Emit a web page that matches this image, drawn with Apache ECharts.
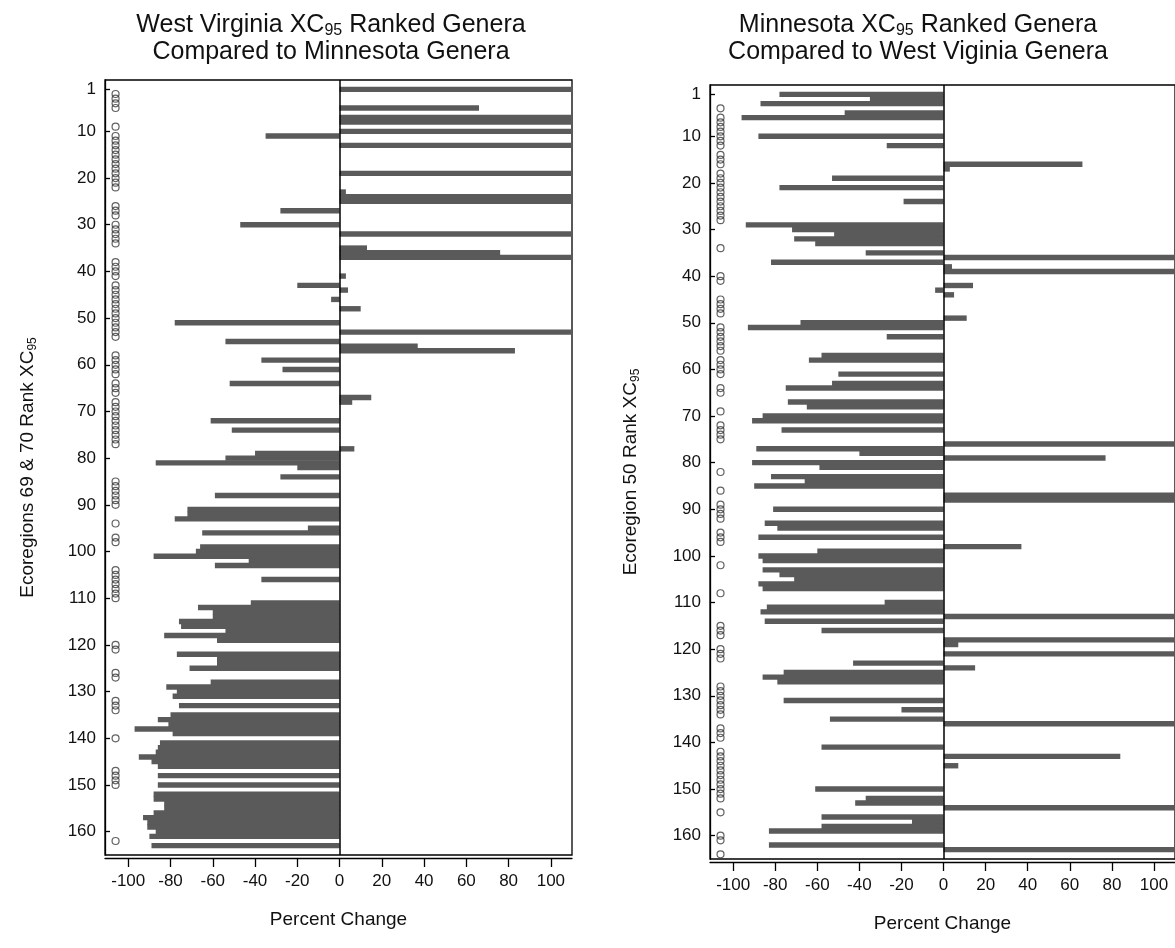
<!DOCTYPE html>
<html>
<head>
<meta charset="utf-8">
<script src="https://cdn.jsdelivr.net/npm/echarts@6/dist/echarts.min.js"></script>
<style>
  html, body { margin: 0; padding: 0; background: #fff; }
  #chart { width: 1175px; height: 948px; }
</style>
</head>
<body>
<div id="chart"></div>
<script>
// ---------------- DATA ----------------
const yTickLabels = [1, 10, 20, 30, 40, 50, 60, 70, 80, 90, 100, 110, 120, 130, 140, 150, 160];
const xTickValues = [-100, -80, -60, -40, -20, 0, 20, 40, 60, 80, 100];

// West Virginia (Ecoregions 69 & 70) ranked genera: rank and percent change vs Minnesota
// (values > 110 run off the right edge of the plot)
const wvRanks = [1, 5, 7, 8, 10, 11, 13, 19, 23, 24, 25, 27, 30, 32, 35, 36, 37, 41, 43, 44, 46, 48,
  51, 53, 55, 56, 57, 59, 61, 64, 67, 68, 72, 74, 78, 79, 80, 81, 82, 84, 88, 91, 92, 93, 95, 96,
  99, 100, 101, 102, 103, 106, 111, 112, 113, 114, 115, 116, 117, 118, 119, 122, 123, 124, 125,
  128, 129, 130, 131, 133, 135, 136, 137, 138, 139, 141, 142, 143, 144, 145, 146, 148, 150,
  152, 153, 154, 155, 156, 157, 158, 159, 160, 161, 163];
const wvChange = [120, 66, 120, 120, 120, -35, 120, 120, 3, 120, 120, -28, -47, 120, 13, 76, 120, 3, -20, 4, -4, 10,
  -78, 120, -54, 37, 83, -37, -27, -52, 15, 6, -61, -51, 7, -40, -54, -87, -20, -28, -59, -72, -72, -78, -15, -65,
  -66, -68, -88, -43, -59, -37, -42, -67, -60, -60, -76, -75, -54, -83, -58, -77, -58, -58, -71,
  -61, -82, -77, -79, -76, -80, -86, -81, -97, -79, -85, -86, -87, -95, -89, -86, -86, -86,
  -88, -88, -83, -83, -88, -93, -91, -91, -87, -90, -89];
// ranks of West Virginia genera not found in Minnesota (open circles)
const wvAbsentRanks = [2, 3, 4, 5, 9, 11, 12, 13, 14, 15, 16, 17, 18, 19, 20, 21, 22, 26, 27, 28, 30, 31, 32, 33, 34,
  38, 39, 40, 41, 43, 44, 45, 46, 47, 48, 49, 50, 51, 52, 53, 54, 58, 59, 60, 61, 62, 64, 65, 66,
  68, 69, 70, 71, 72, 73, 74, 75, 76, 77, 85, 86, 87, 88, 89, 90, 94, 97, 98, 104, 105, 106, 107,
  108, 109, 110, 120, 121, 126, 127, 132, 133, 134, 140, 147, 148, 149, 150, 162];

// Minnesota (Ecoregion 50) ranked genera: rank and percent change vs West Virginia
const mnRanks = [1, 2, 3, 5, 6, 10, 12, 16, 17, 19, 21, 24, 29, 30, 31, 32, 33, 35, 36, 37, 38, 39, 42, 43, 44,
  49, 50, 51, 53, 57, 58, 61, 63, 64, 67, 68, 70, 71, 73, 76, 77, 78, 79, 80, 81, 83, 84, 85, 87, 88,
  90, 93, 94, 96, 98, 99, 100, 101, 103, 104, 105, 106, 107, 110, 111, 112, 113, 114, 116, 118, 119,
  121, 123, 124, 125, 126, 127, 131, 133, 135, 136, 141, 143, 145, 150, 152, 153, 154, 156, 157,
  158, 159, 162, 163];
const mnChange = [-78, -35, -87, -47, -96, -88, -27, 66, 3, -53, -78, -19, -94, -72, -52, -71, -61, -37, 120, -82, 4, 120, 14, -4, 5,
  11, -68, -93, -27, -58, -64, -50, -53, -75, -74, -65, -86, -91, -77, 120, -89, -40, 77, -91, -59, -82, -66, -90, 120, 120,
  -81, -85, -79, -88, 37, -60, -88, -86, -86, -78, -71, -88, -86, -28, -84, -87, 120, -85, -58, 120, 7,
  120, -43, 15, -76, -86, -79, -76, -20, -54, 120, -58, 84, 7, -61, -37, -42, 120, -58, -15,
  -58, -83, -83, 120];
// ranks of Minnesota genera not found in West Virginia (open circles)
const mnAbsentRanks = [4, 6, 7, 8, 9, 10, 11, 12, 14, 15, 16, 18, 19, 20, 21, 22, 23, 24, 25, 26, 27, 28, 34, 40, 41,
  45, 46, 47, 48, 51, 52, 53, 54, 55, 56, 58, 59, 60, 61, 64, 65, 69, 72, 73, 74, 75, 82, 86, 89, 90,
  91, 92, 95, 96, 97, 102, 108, 115, 116, 117, 120, 121, 122, 128, 129, 130, 131, 132, 133, 134,
  137, 138, 139, 142, 143, 144, 145, 146, 147, 148, 149, 150, 151, 152, 155, 160, 161, 164];

const ABSENT_X = -106;       // percent-change coordinate where "absent" markers sit
const RANK_MIN = -1, RANK_MAX = 165;

// ---------------- CHART ----------------
const rankCats = [];
for (let r = RANK_MIN; r <= RANK_MAX; r++) rankCats.push(String(r));

const FONT = 'Liberation Sans, Arial, sans-serif';
const TXT = '#111';

function subRich(size, lh, subSize) {
  return {
    n: { fontSize: size, fontFamily: FONT, fontWeight: 'normal', color: TXT, lineHeight: lh, verticalAlign: 'middle' },
    s: { fontSize: subSize, fontFamily: FONT, fontWeight: 'normal', color: TXT, lineHeight: subSize, verticalAlign: 'bottom' }
  };
}

const showRankLabel = (idx, val) => yTickLabels.indexOf(Number(val)) >= 0;

function makeX(gi) {
  return {
    type: 'value', gridIndex: gi, min: -111, max: 110, offset: 3,
    axisLine: { show: true, onZero: false, lineStyle: { color: '#000', width: 1.3 } },
    axisTick: { show: true, length: 9, customValues: xTickValues, lineStyle: { color: '#000', width: 1.3 } },
    axisLabel: { customValues: xTickValues, fontSize: 17, fontFamily: FONT, color: TXT, margin: 15 },
    splitLine: { show: false },
    name: 'Percent Change', nameLocation: 'middle', nameGap: 52,
    nameTextStyle: { fontSize: 19, fontFamily: FONT, color: TXT }
  };
}
function makeY(gi, name, gap) {
  return {
    type: 'category', gridIndex: gi, data: rankCats, inverse: true, boundaryGap: false,
    axisLine: { show: true, onZero: false, lineStyle: { color: '#000', width: 1.3 } },
    axisTick: { show: true, inside: true, length: 5, interval: showRankLabel, lineStyle: { color: '#000', width: 1.3 } },
    axisLabel: { interval: showRankLabel, fontSize: 17, fontFamily: FONT, color: TXT, margin: 9 },
    splitLine: { show: false },
    name: name, nameLocation: 'middle', nameGap: gap, nameRotate: 90,
    nameTextStyle: { rich: subRich(19, 23, 12) }
  };
}
function barSeries(gi, ranks, vals) {
  return {
    type: 'bar', xAxisIndex: gi, yAxisIndex: gi,
    data: ranks.map((r, i) => [vals[i], String(r)]),
    barWidth: 5.4, clip: true,
    itemStyle: { color: '#5a5a5a' },
    markLine: {
      silent: true, symbol: 'none', label: { show: false },
      lineStyle: { color: '#000', width: 1.5, type: 'solid' },
      data: [{ xAxis: 0 }]
    },
    animation: false
  };
}
function absentSeries(gi, ranks) {
  return {
    type: 'scatter', xAxisIndex: gi, yAxisIndex: gi,
    data: ranks.map(r => [ABSENT_X, String(r)]),
    symbol: 'circle', symbolSize: 7,
    itemStyle: { color: 'rgba(0,0,0,0)', borderColor: '#3a3a3a', borderWidth: 1.2 },
    animation: false
  };
}

const chart = echarts.init(document.getElementById('chart'), null, { renderer: 'canvas' });
chart.setOption({
  backgroundColor: '#fff',
  animation: false,
  title: [
    { text: '{n|West Virginia XC}{s|95}{n| Ranked Genera}\n{n|Compared to Minnesota Genera}',
      left: 326, top: 7, textAlign: 'center', textStyle: { fontWeight: 'normal', rich: subRich(25, 27, 16) } },
    { text: '{n|Minnesota XC}{s|95}{n| Ranked Genera}\n{n|Compared to West Viginia Genera}',
      left: 913, top: 7, textAlign: 'center', textStyle: { fontWeight: 'normal', rich: subRich(25, 27, 16) } }
  ],
  grid: [
    { left: 105, top: 80, width: 467, height: 775, show: true, borderColor: '#000', borderWidth: 1.3, backgroundColor: '#fff' },
    { left: 710, top: 85, width: 467, height: 774, show: true, borderColor: '#000', borderWidth: 1.3, backgroundColor: '#fff' }
  ],
  xAxis: [makeX(0), makeX(1)],
  yAxis: [
    makeY(0, '{n|Ecoregions 69 & 70 Rank XC}{s|95}', 66),
    makeY(1, '{n|Ecoregion 50 Rank XC}{s|95}', 68)
  ],
  series: [
    barSeries(0, wvRanks, wvChange),
    absentSeries(0, wvAbsentRanks),
    barSeries(1, mnRanks, mnChange),
    absentSeries(1, mnAbsentRanks)
  ]
});
</script>
</body>
</html>
